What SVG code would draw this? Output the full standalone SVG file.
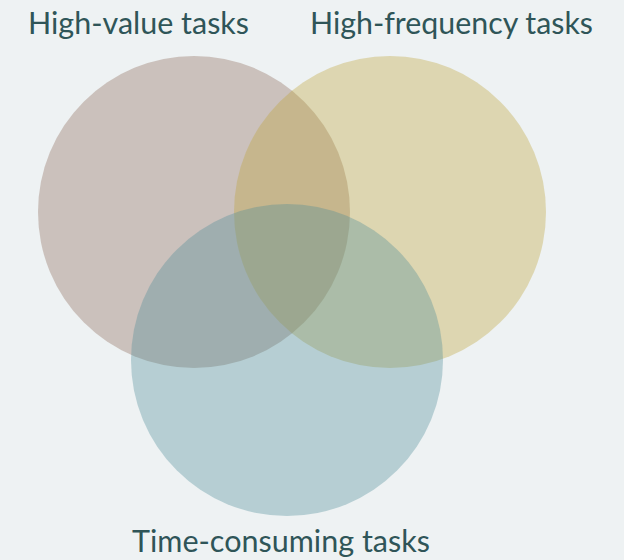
<svg xmlns="http://www.w3.org/2000/svg" width="624" height="560" viewBox="0 0 624 560">
<style>
.lbl{font-family:Lato,"Open Sans","Liberation Sans",sans-serif;font-size:30px;fill:#2f5558;text-anchor:middle}
.c{fill-opacity:0.35}
</style>
<rect width="624" height="560" fill="#eef2f3"/>
<g id="high-value"><circle class="c" cx="194" cy="212" r="156" fill="#8a6656"/></g>
<g id="high-frequency"><circle class="c" cx="390" cy="212" r="156" fill="#bda236"/></g>
<g id="time-consuming"><circle class="c" cx="287" cy="360" r="156" fill="#4e8b98"/></g>
<g id="connectors"></g>
<g id="labels">
<text class="lbl" x="138.5" y="34" textLength="221" lengthAdjust="spacingAndGlyphs">High-value tasks</text>
<text class="lbl" x="451.5" y="34" textLength="283" lengthAdjust="spacingAndGlyphs">High-frequency tasks</text>
<text class="lbl" x="281" y="552" textLength="298" lengthAdjust="spacingAndGlyphs">Time-consuming tasks</text>
</g>
</svg>
